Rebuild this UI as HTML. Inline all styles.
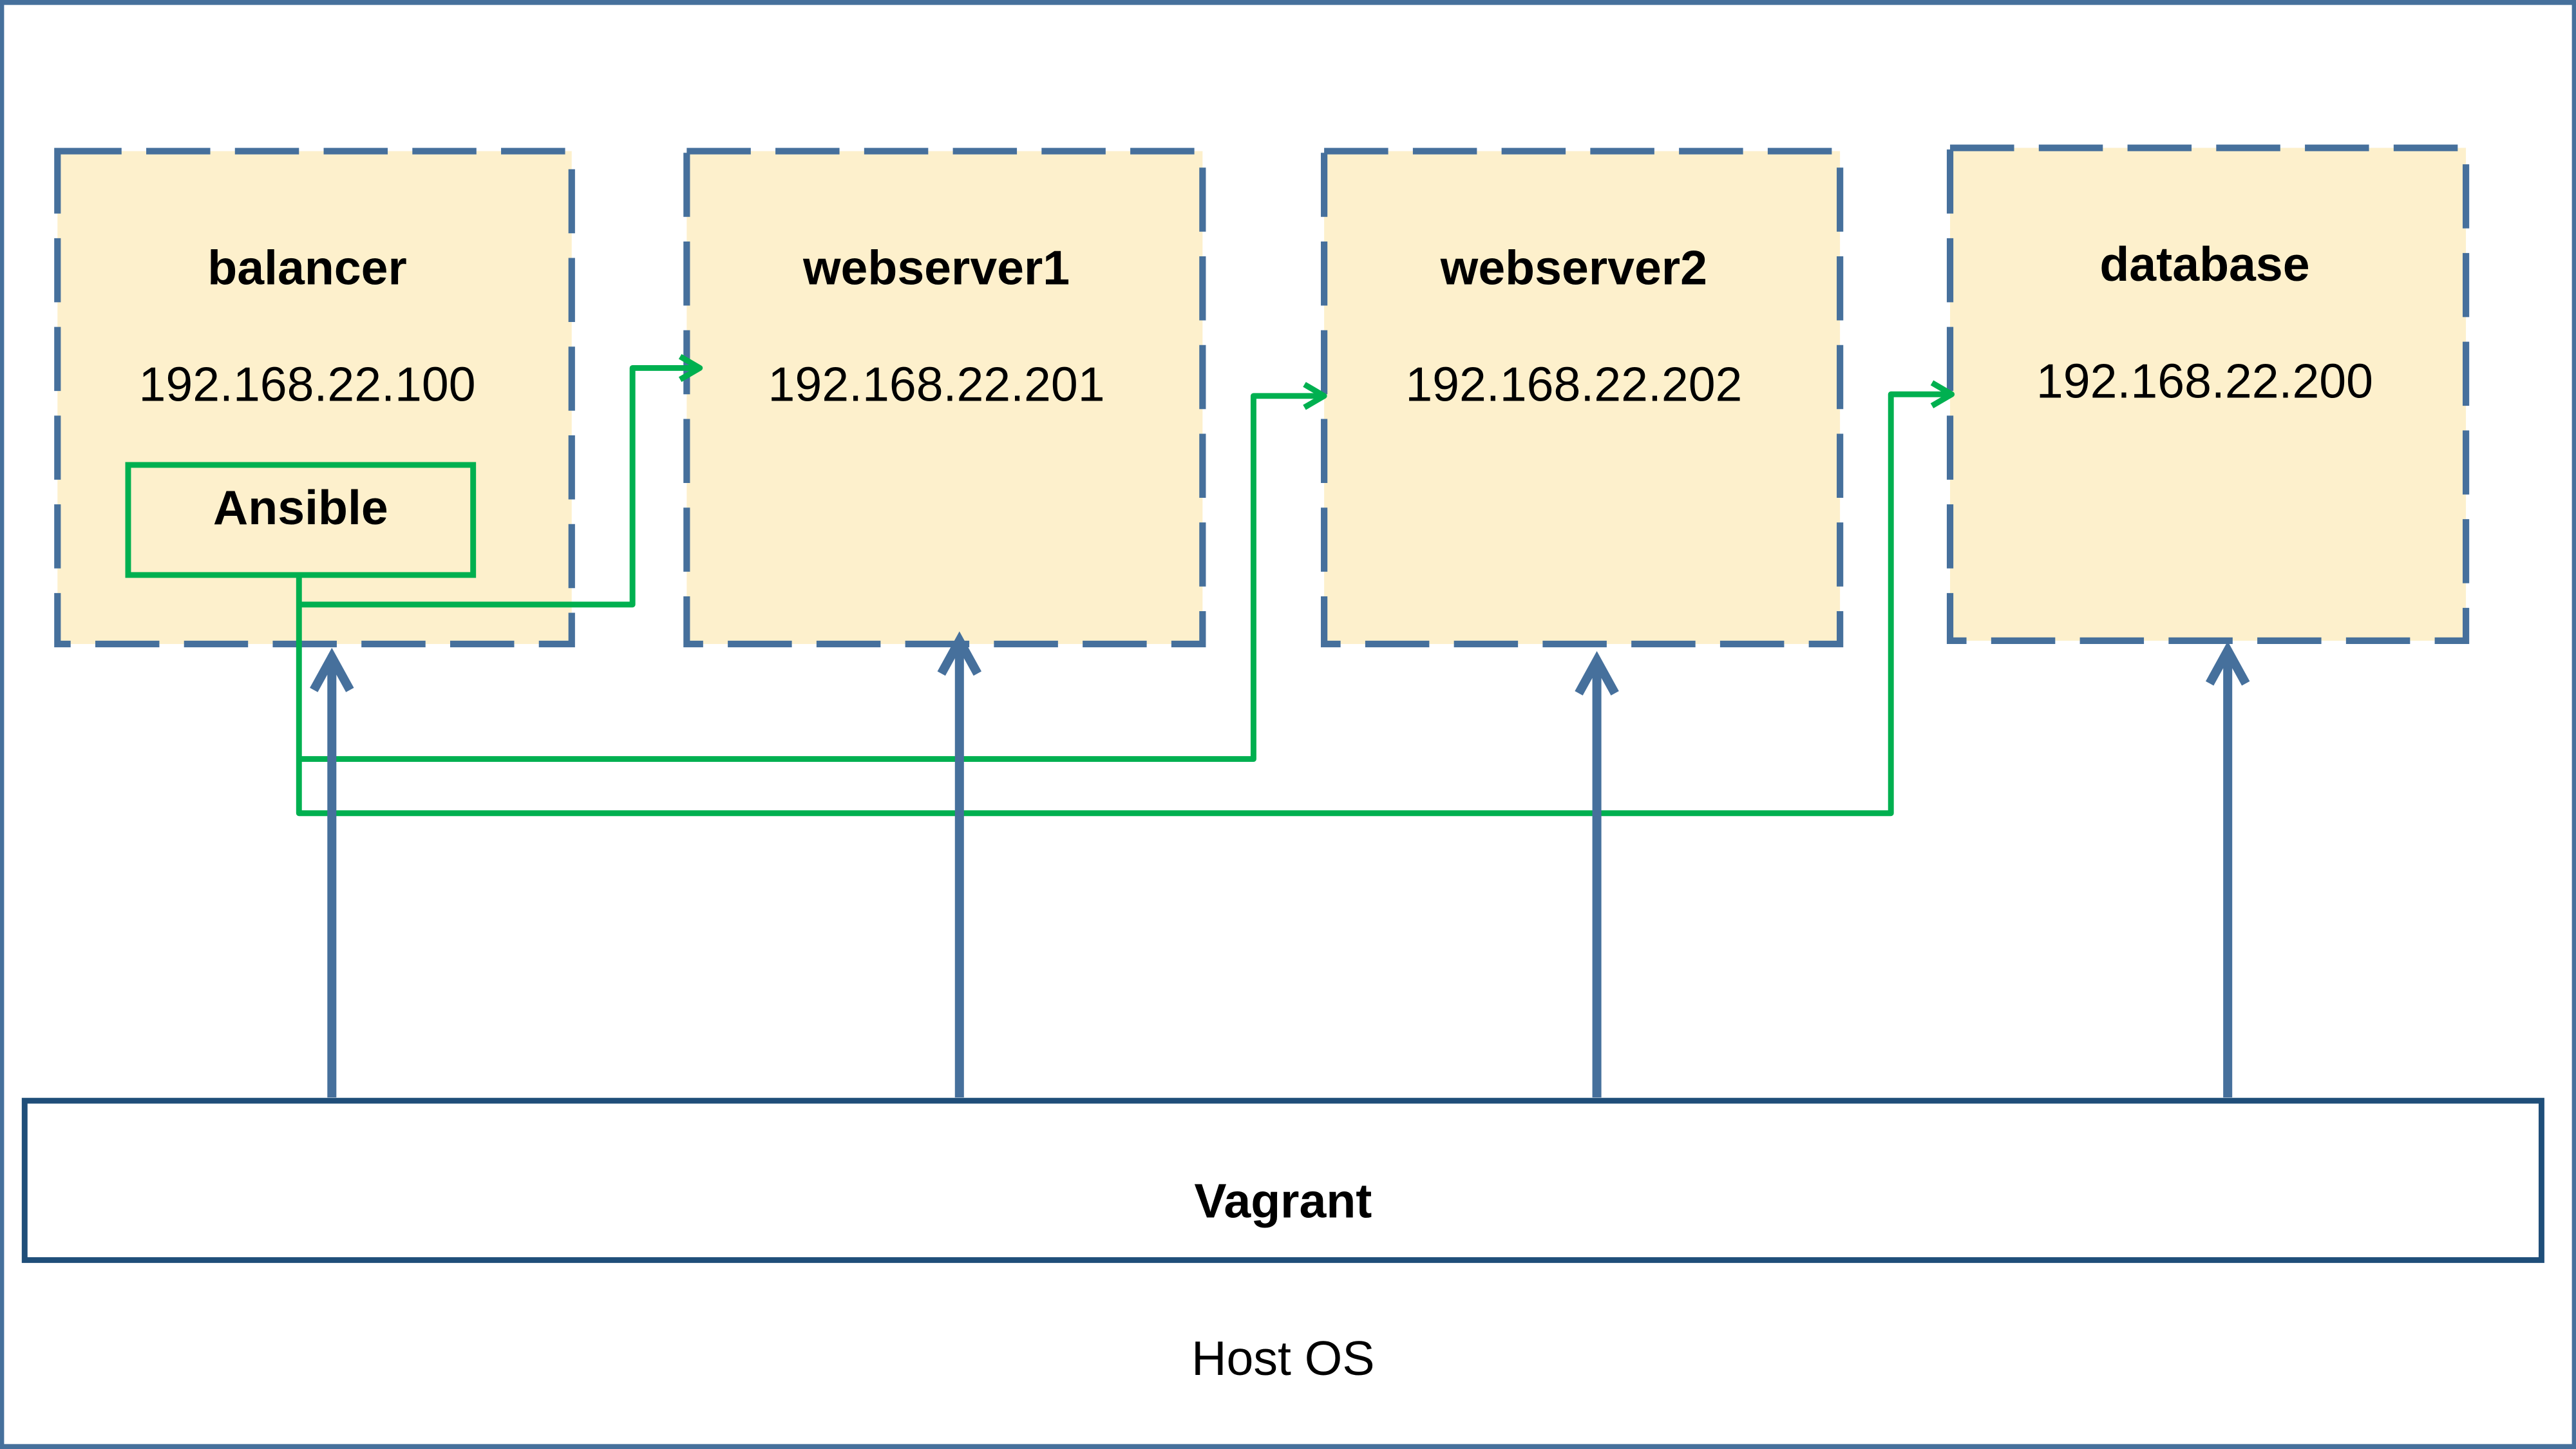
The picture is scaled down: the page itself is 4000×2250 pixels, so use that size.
<!DOCTYPE html>
<html><head><meta charset="utf-8"><style>html,body{margin:0;padding:0;background:#fff}svg{display:block}</style></head>
<body>
<svg width="4000" height="2250" viewBox="0 0 1568 882" xmlns="http://www.w3.org/2000/svg" font-family="Liberation Sans, sans-serif">
<rect x="1" y="1.5" width="1566" height="879" fill="#fff" stroke="#46709c" stroke-width="3"/>
<g fill="#fdf0cc" stroke="#46709c" stroke-width="4" stroke-dasharray="39 15">
<rect x="35" y="92" width="313" height="300"/>
<rect x="418" y="92" width="314" height="300"/>
<rect x="806" y="92" width="314" height="300"/>
<rect x="1187" y="90" width="314" height="300"/>
</g>
<g font-size="29.5" text-anchor="middle" fill="#000">
<text x="187" y="173" font-weight="bold">balancer</text>
<text x="570" y="173" font-weight="bold">webserver1</text>
<text x="958" y="173" font-weight="bold">webserver2</text>
<text x="1342" y="171" font-weight="bold">database</text>
<text x="187" y="244">192.168.22.100</text>
<text x="570" y="244">192.168.22.201</text>
<text x="958" y="244">192.168.22.202</text>
<text x="1342" y="242">192.168.22.200</text>
</g>
<rect x="78" y="283" width="210" height="67" fill="none" stroke="#00b050" stroke-width="3.5"/>
<text x="183" y="319" font-size="29.5" font-weight="bold" text-anchor="middle">Ansible</text>
<g fill="none" stroke="#00b050" stroke-width="3.5" stroke-linejoin="round">
<path d="M182 350 V495 H1151 V240 H1188"/>
<path d="M182 368 H385 V224 H426"/>
<path d="M182 462 H763 V241 H806"/>
<path d="M414 217 L426 224 L414 231"/>
<path d="M794 234 L806 241 L794 248"/>
<path d="M1176 233 L1188 240 L1176 247"/>
</g>
<g fill="none" stroke="#46709c" stroke-width="5.5">
<path d="M202 668 V400 M191 420 L202 400 L213 420"/>
<path d="M584 668 V390 M573 410 L584 390 L595 410"/>
<path d="M972 668 V402 M961 422 L972 402 L983 422"/>
<path d="M1356 668 V396 M1345 416 L1356 396 L1367 416"/>
</g>
<rect x="15" y="670" width="1532" height="97" fill="#fff" stroke="#1f4e79" stroke-width="3.5"/>
<text x="781" y="741" font-size="29.5" font-weight="bold" text-anchor="middle">Vagrant</text>
<text x="781" y="837" font-size="29.5" text-anchor="middle">Host OS</text>
</svg>
</body></html>
